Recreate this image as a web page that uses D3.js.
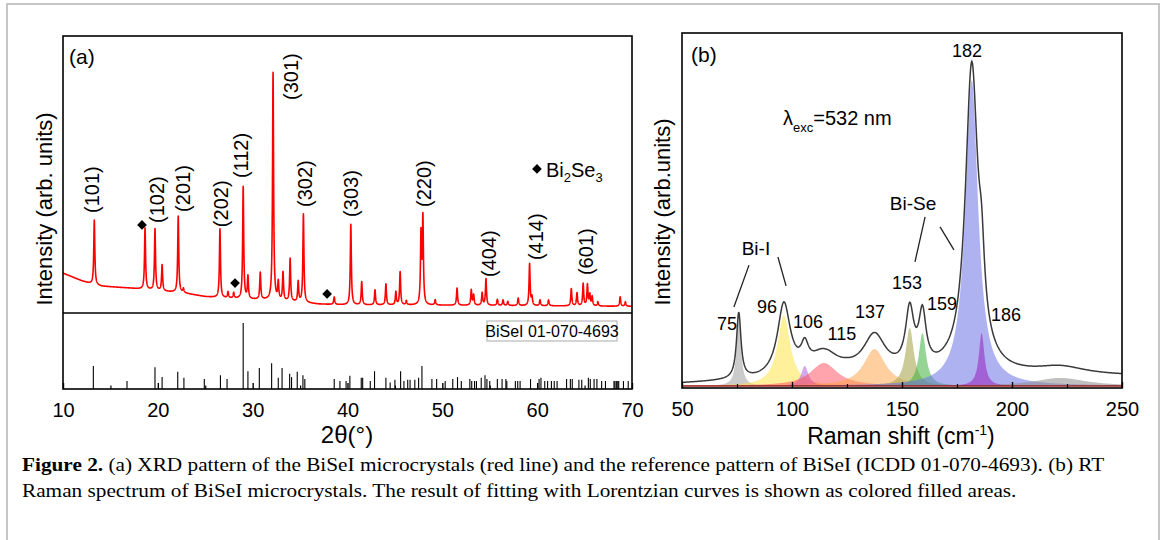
<!DOCTYPE html>
<html><head><meta charset="utf-8">
<script src="https://cdn.jsdelivr.net/npm/d3@7"></script>
<style>
body{margin:0;background:#fff}
svg text{font-family:"Liberation Sans",Arial,Helvetica,sans-serif;fill:#000}
</style>
</head><body>
<svg id="chart" width="1167" height="540"></svg>
<script>
// ---------------- Panel (a): XRD data ----------------
const xrdBaseline2theta = [10, 11, 12, 13, 14, 17, 18, 20, 22.7, 25, 27, 29, 31.5, 35, 37, 40, 50, 60, 70];
const xrdBaselineInt    = [14.4, 13, 11.6, 10.5, 9.7, 9, 8.7, 8, 7.2, 5.9, 5.4, 5.0, 4.7, 3.8, 3.2, 2.9, 2.8, 2.6, 2.4];
const xrdPeak2theta = [13.3, 18.65, 19.7, 20.45, 22.15, 22.7, 26.55, 27.4, 28.0, 29.0, 29.5, 30.8, 32.15, 32.7, 33.2, 33.95, 34.8, 35.35,
  38.6, 40.35, 41.5, 42.9, 44.05, 45.1, 45.55, 46.2, 47.75, 47.95, 49.25, 51.55, 53.05, 53.3, 54.2, 54.6, 55.8, 56.4, 56.9, 58.0,
  59.2, 59.45, 60.3, 61.2, 63.6, 64.2, 64.85, 65.3, 65.55, 65.8, 66.4, 68.75, 69.3];
const xrdPeakHeight = [23.3, 22.2, 22.2, 9.4, 27.6, 1.5, 24.8, 2.2, 2.0, 40.5, 8.1, 9.7, 82.1, 6.4, 10.2, 15.4, 7.3, 31.9,
  2.7, 29.1, 8.3, 5.4, 7.6, 4.7, 11.9, 1.5, 25, 31, 1.9, 6.2, 5.5, 3.7, 4.5, 9.6, 2.2, 2.0, 1.5, 2.7,
  15.1, 3, 2.1, 2.1, 6.2, 4.7, 8, 7.6, 4, 3.3, 1.5, 3.4, 1.6];
const xrdPeakFWHM = 0.13;
const hklLabels = ["(101)", "(102)", "(201)", "(202)", "(112)", "(301)", "(302)", "(303)", "(220)", "(404)", "(414)", "(601)"];
const hklLabel2theta = [13.06, 19.91, 22.65, 26.66, 28.82, 34.04, 35.52, 40.37, 48.06, 54.92, 59.87, 65.15];
const hklLabelInt = [36.1, 32.5, 36.5, 31.0, 48.7, 76.9, 38.3, 34.7, 38.3, 13.0, 19.1, 13.7];
const bi2se3Marks2theta = [18.33, 28.14, 37.85];
const bi2se3MarksInt = [31.8, 10.8, 6.9];
// reference sticks BiSeI 01-070-4693 (relative intensity, strongest = 100)
const ref2theta = [13.2, 16.75, 19.7, 20.45, 22.1, 22.75, 24.9, 26.6, 27.3, 29.0, 29.5, 30.7, 32.0, 32.7, 33.1, 33.9, 34.1, 34.7, 35.3, 35.5,
  38.6, 39.2, 39.85, 40.25, 41.45, 41.6, 42.4, 42.85, 44.05, 44.5, 45.0, 45.6, 45.95, 46.35, 46.6, 47.1, 47.5, 47.85, 48.9, 49.4,
  50.3, 51.1, 51.6, 52.0, 52.9, 53.1, 53.4, 53.6, 54.1, 54.5, 54.7, 55.0, 55.8, 56.3, 56.7, 56.8, 57.7, 57.95, 58.2, 59.3,
  60.2, 60.4, 60.8, 61.1, 61.5, 61.8, 62.1, 63.1, 63.5, 63.7, 64.4, 64.7, 65.4, 65.6, 66.0, 66.3, 66.8, 67.2, 68.1, 68.2,
  68.35, 68.5, 68.6, 69.1, 69.6];
const refInt = [35, 12, 33, 18, 26, 17, 15, 21, 15, 100, 27, 32, 39, 17, 32, 23, 18, 26, 21, 15,
  15, 12, 12, 20, 17, 17, 12, 27, 17, 10, 14, 27, 12, 14, 14, 14, 17, 35, 15, 15,
  12, 15, 18, 12, 15, 12, 12, 12, 17, 21, 15, 12, 15, 15, 15, 12, 12, 12, 12, 15,
  15, 17, 12, 12, 12, 12, 12, 15, 15, 15, 14, 14, 17, 15, 15, 15, 12, 12, 12, 12,
  12, 12, 12, 12, 12];
const xTicksA = [10, 20, 30, 40, 50, 60, 70];
const xMinorA = [15, 25, 35, 45, 55, 65];

// ---------------- Panel (b): Raman data ----------------
const ramanCenters = [75.8, 96.3, 105.8, 114.5, 137.5, 153.5, 159.3, 181.7, 186.2, 222];
const ramanHeights = [20.4, 21.9, 6.2, 7.1, 11.4, 17.9, 16.4, 94.4, 16.4, 2.5];
const ramanFWHM    = [2.4, 7, 4, 15, 12, 4.5, 4, 7, 3, 28];
const ramanColors  = ["#a0a0a0", "#ffe23a", "#b262e6", "#ff4a5a", "#ffa040", "#aaa650", "#40b040", "#6c72e6", "#9c36c8", "#8c8c8c"];
const ramanOpacity = [0.55, 0.5, 0.55, 0.5, 0.5, 0.6, 0.55, 0.55, 0.65, 0.55];
const ramanBgShift = [50, 70, 85, 100, 115, 125, 145, 160, 170, 200, 250];
const ramanBgInt   = [0.7, 1.2, 1.5, 2.5, 2.2, 3.3, 3.0, 2.8, 3.5, 3.0, 3.0];
const ramanLabels = ["75", "96", "106", "115", "137", "153", "159", "182", "186"];
const ramanLabelShift = [70.5, 88.6, 107.3, 122.7, 135.5, 152.3, 168.2, 179.5, 197.3];
const ramanLabelInt = [17.3, 22.5, 17.9, 14.2, 21.0, 29.9, 23.5, 101.5, 20.1];
const xTicksB = [50, 100, 150, 200, 250];
const xMinorB = [75, 125, 175, 225];

const captionLine1Bold = "Figure 2.";
const captionLine1 = " (a) XRD pattern of the BiSeI microcrystals (red line) and the reference pattern of BiSeI (ICDD 01-070-4693). (b) RT";
const captionLine2 = "Raman spectrum of BiSeI microcrystals. The result of fitting with Lorentzian curves is shown as colored filled areas.";

// ---------------- setup ----------------
const svg = d3.select("#chart");
const FONT = '"Liberation Sans",Arial,sans-serif';
const SERIF = '"Liberation Serif","Times New Roman",serif';

// outer page frame
svg.append("path").attr("d", "M7,540 V4 H1159 V540").attr("fill", "none").attr("stroke", "#b4b4b4").attr("stroke-width", 1.5);

// ---------- Panel (a) ----------
const A = {l: 63, r: 632, t: 36, b: 389, mid: 313};
const xA = d3.scaleLinear().domain([10, 70]).range([A.l, A.r]);
const yA = d3.scaleLinear().domain([0, 100]).range([A.mid, A.t]);
const yR = d3.scaleLinear().domain([0, 100]).range([A.b, 323]);

const bgA = d3.scaleLinear().domain(xrdBaseline2theta).range(xrdBaselineInt);
const hw = xrdPeakFWHM / 2;
const xrdPts = d3.range(10, 70.0001, 0.01).map(t => {
  let v = bgA(t);
  for (let i = 0; i < xrdPeak2theta.length; i++) {
    const d = (t - xrdPeak2theta[i]) / hw;
    v += xrdPeakHeight[i] / (1 + d * d);
  }
  return [t, v];
});
const gA = svg.append("g");
gA.append("clipPath").attr("id", "clipA").append("rect").attr("x", A.l).attr("y", A.t).attr("width", A.r - A.l).attr("height", A.mid - A.t);
gA.append("path").datum(xrdPts).attr("clip-path", "url(#clipA)")
  .attr("d", d3.line().x(d => xA(d[0])).y(d => yA(d[1])))
  .attr("fill", "none").attr("stroke", "#ff0000").attr("stroke-width", 1.6).attr("stroke-linejoin", "round");

// reference sticks
gA.selectAll("line.stick").data(ref2theta).join("line").attr("class", "stick")
  .attr("x1", d => xA(d)).attr("x2", d => xA(d))
  .attr("y1", yR(0)).attr("y2", (d, i) => yR(refInt[i]))
  .attr("stroke", "#000").attr("stroke-width", 1.1);

// hkl labels
gA.selectAll("text.hkl").data(hklLabels).join("text").attr("class", "hkl")
  .attr("transform", (d, i) => `translate(${xA(hklLabel2theta[i])},${yA(hklLabelInt[i])}) rotate(-90)`)
  .attr("dy", "0.35em").attr("text-anchor", "start")
  .attr("font-size", 20).text(d => d);

// diamonds
const diamond = d3.symbol().type(d3.symbolDiamond2).size(60);
gA.selectAll("path.dia").data(bi2se3Marks2theta).join("path").attr("class", "dia")
  .attr("d", diamond)
  .attr("transform", (d, i) => `translate(${xA(d)},${yA(bi2se3MarksInt[i])})`)
  .attr("fill", "#000");
// legend Bi2Se3
gA.append("path").attr("d", diamond).attr("transform", `translate(${xA(59.98)},${yA(52)})`).attr("fill", "#000");
const leg = gA.append("text").attr("x", xA(59.98) + 9).attr("y", yA(52) + 8).attr("font-size", 20);
leg.append("tspan").text("Bi");
leg.append("tspan").attr("font-size", 13).attr("dy", 5).text("2");
leg.append("tspan").attr("dy", -5).text("Se");
leg.append("tspan").attr("font-size", 13).attr("dy", 5).text("3");

// reference legend box
gA.append("rect").attr("x", 487).attr("y", 321).attr("width", 130).attr("height", 20)
  .attr("fill", "#fff").attr("stroke", "#b8b8b8").attr("stroke-width", 1.2);
gA.append("text").attr("x", 552).attr("y", 337).attr("text-anchor", "middle").attr("font-size", 16).text("BiSeI 01-070-4693");

// frame
gA.append("rect").attr("x", A.l).attr("y", A.t).attr("width", A.r - A.l).attr("height", A.b - A.t)
  .attr("fill", "none").attr("stroke", "#000").attr("stroke-width", 1.6);
gA.append("line").attr("x1", A.l).attr("x2", A.r).attr("y1", A.mid).attr("y2", A.mid).attr("stroke", "#000").attr("stroke-width", 1.6);

// axes
const axA = gA.append("g").attr("transform", `translate(0,${A.b})`)
  .call(d3.axisBottom(xA).tickValues(xTicksA).tickSize(-6).tickPadding(14).tickFormat(d3.format("d")));
axA.select(".domain").remove();
axA.selectAll("text").attr("font-size", 20).attr("font-family", FONT);
axA.selectAll("line").attr("stroke-width", 1.4);
const axAm = gA.append("g").attr("transform", `translate(0,${A.b})`)
  .call(d3.axisBottom(xA).tickValues(xMinorA).tickSize(-3.5).tickFormat(""));
axAm.select(".domain").remove();
axAm.selectAll("line").attr("stroke-width", 1.2);

gA.append("text").attr("x", 69).attr("y", 64).attr("font-size", 21).text("(a)");
gA.append("text").attr("x", 347).attr("y", 443).attr("text-anchor", "middle").attr("font-size", 24).text("2θ(°)");
gA.append("text").attr("transform", "translate(52,209) rotate(-90)").attr("text-anchor", "middle")
  .attr("font-size", 22).text("Intensity (arb. units)");

// ---------- Panel (b) ----------
const B = {l: 682, r: 1122, t: 33, b: 388};
const xB = d3.scaleLinear().domain([50, 250]).range([B.l, B.r]);
const yB = d3.scaleLinear().domain([0, 100]).range([386, 62]);
const bgB = d3.scaleLinear().domain(ramanBgShift).range(ramanBgInt);
const shifts = d3.range(50, 250.0001, 0.25);
const lor = (x, i) => { const d = (x - ramanCenters[i]) / (ramanFWHM[i] / 2); return ramanHeights[i] / (1 + d * d); };
const gB = svg.append("g");
gB.append("clipPath").attr("id", "clipB").append("rect").attr("x", B.l).attr("y", B.t).attr("width", B.r - B.l).attr("height", B.b - B.t);
const comps = ramanCenters.map((c, i) => shifts.map(x => [x, lor(x, i)]));
const area = d3.area().x(d => xB(d[0])).y0(yB(0)).y1(d => yB(d[1]));
gB.selectAll("path.comp").data(comps).join("path").attr("class", "comp")
  .attr("clip-path", "url(#clipB)")
  .attr("d", area).attr("fill", (d, i) => ramanColors[i]).attr("fill-opacity", (d, i) => ramanOpacity[i]).attr("stroke", "none");
gB.append("line").attr("x1", B.l).attr("x2", B.r).attr("y1", yB(0)).attr("y2", yB(0)).attr("stroke", "#9a1f1f").attr("stroke-width", 1.5);
const env = shifts.map(x => { let v = bgB(x); for (let i = 0; i < ramanCenters.length; i++) v += lor(x, i); return [x, v]; });
gB.append("path").datum(env).attr("clip-path", "url(#clipB)")
  .attr("d", d3.line().x(d => xB(d[0])).y(d => yB(d[1])))
  .attr("fill", "none").attr("stroke", "#3a3a3a").attr("stroke-width", 1.5);

// peak labels
gB.selectAll("text.pk").data(ramanLabels).join("text").attr("class", "pk")
  .attr("x", (d, i) => xB(ramanLabelShift[i])).attr("y", (d, i) => yB(ramanLabelInt[i]))
  .attr("text-anchor", "middle").attr("font-size", 18).text(d => d);
gB.append("text").attr("x", xB(83.6)).attr("y", yB(40.4)).attr("text-anchor", "middle").attr("font-size", 19).text("Bi-I");
gB.append("text").attr("x", xB(155)).attr("y", yB(54.3)).attr("text-anchor", "middle").attr("font-size", 19).text("Bi-Se");
const leaders = [[80.45, 37.3, 73.6, 24.4], [93.6, 39.8, 97.3, 30.9], [160.5, 52.2, 155.9, 38.3], [167.3, 49.1, 173.6, 42.0]];
gB.selectAll("line.lead").data(leaders).join("line").attr("class", "lead")
  .attr("x1", d => xB(d[0])).attr("y1", d => yB(d[1])).attr("x2", d => xB(d[2])).attr("y2", d => yB(d[3]))
  .attr("stroke", "#222").attr("stroke-width", 1.3);

const lam = gB.append("text").attr("x", xB(95.9)).attr("y", yB(80.6)).attr("font-size", 20);
lam.append("tspan").text("λ");
lam.append("tspan").attr("font-size", 13).attr("dy", 7).text("exc");
lam.append("tspan").attr("dy", -7).text("=532 nm");

gB.append("rect").attr("x", B.l).attr("y", B.t).attr("width", B.r - B.l).attr("height", B.b - B.t)
  .attr("fill", "none").attr("stroke", "#000").attr("stroke-width", 1.6);
const axB = gB.append("g").attr("transform", `translate(0,${B.b})`)
  .call(d3.axisBottom(xB).tickValues(xTicksB).tickSize(-6).tickPadding(14).tickFormat(d3.format("d")));
axB.select(".domain").remove();
axB.selectAll("text").attr("font-size", 20).attr("font-family", FONT);
axB.selectAll("line").attr("stroke-width", 1.4);
const axBm = gB.append("g").attr("transform", `translate(0,${B.b})`)
  .call(d3.axisBottom(xB).tickValues(xMinorB).tickSize(-4).tickFormat(""));
axBm.select(".domain").remove();
axBm.selectAll("line").attr("stroke-width", 1.2);

gB.append("text").attr("x", 691).attr("y", 62).attr("font-size", 21).text("(b)");
const xt = gB.append("text").attr("x", 901).attr("y", 444).attr("text-anchor", "middle").attr("font-size", 23);
xt.append("tspan").text("Raman shift (cm");
xt.append("tspan").attr("font-size", 14).attr("dy", -9).text("-1");
xt.append("tspan").attr("dy", 9).text(")");
gB.append("text").attr("transform", "translate(670,212) rotate(-90)").attr("text-anchor", "middle")
  .attr("font-size", 22).text("Intensity (arb.units)");

// ---------- caption (condensed serif, same horizontal scale on both lines) ----------
const capX = 22, line1W = 1083;
const cg = svg.append("g");
const c1 = cg.append("text").attr("x", 0).attr("y", 0).attr("font-size", 18.5).style("font-family", SERIF);
c1.append("tspan").attr("font-weight", "bold").text(captionLine1Bold);
c1.append("tspan").text(captionLine1);
const L1 = c1.node().getComputedTextLength();
const r = line1W / L1;
c1.attr("transform", `translate(${capX},471) scale(${r},1)`);
cg.append("text").attr("x", 0).attr("y", 0).attr("font-size", 18.5).style("font-family", SERIF)
  .attr("transform", `translate(${capX},497) scale(${r},1)`).text(captionLine2);
</script>
</body></html>
